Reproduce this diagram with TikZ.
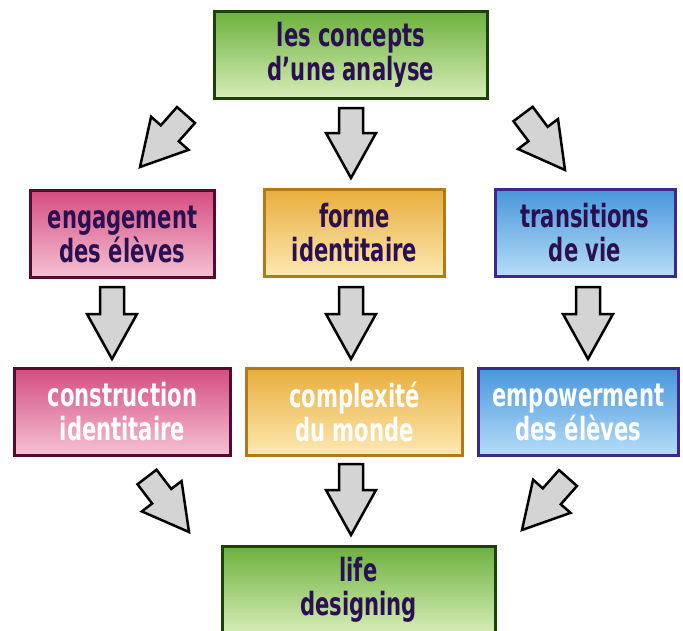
\documentclass[tikz,border=0pt]{standalone}
\usepackage{fontspec}
\newfontfamily\chalk{DejaVu Sans}[FakeStretch=0.66]
\usetikzlibrary{calc, positioning}

\definecolor{inkpurple}{HTML}{2A1050}
\definecolor{greentop}{HTML}{6CB13E}
\definecolor{greenbot}{HTML}{D8EDB8}
\definecolor{greenline}{HTML}{1A420A}
\definecolor{pinktop}{HTML}{D44D80}
\definecolor{pinkbot}{HTML}{F6C2D5}
\definecolor{pinkline}{HTML}{550A2E}
\definecolor{orangetop}{HTML}{E8AE3E}
\definecolor{orangebot}{HTML}{FDE9B2}
\definecolor{orangeline}{HTML}{B07A18}
\definecolor{bluetop}{HTML}{4797DC}
\definecolor{bluebot}{HTML}{B7DDF7}
\definecolor{blueline}{HTML}{3B2A8A}
\definecolor{arrowgray}{HTML}{D4D4D4}

% block arrow from tail #1 to tip #2
\newcommand{\blockarrow}[2]{%
  \draw[blockarrow] ($(#1)!12pt!90:(#2)$)
    -- ($(#2)!45pt!(#1)!12pt!-90:(#1)$)
    -- ($(#2)!45pt!(#1)!25pt!-90:(#1)$)
    -- (#2)
    -- ($(#2)!45pt!(#1)!25pt!90:(#1)$)
    -- ($(#2)!45pt!(#1)!12pt!90:(#1)$)
    -- ($(#1)!12pt!-90:(#2)$) -- cycle;}

\begin{document}
\begin{tikzpicture}[x=1pt, y=-1pt,
    box/.style={draw, line width=3pt, align=center, inner sep=0pt,
        minimum height=87pt,
        font=\chalk\bfseries\fontsize{32}{34}\selectfont},
    greenbox/.style={box, draw=greenline, top color=greentop, bottom color=greenbot, text=inkpurple},
    pinkbox/.style={box, draw=pinkline, top color=pinktop, bottom color=pinkbot},
    orangebox/.style={box, draw=orangeline, top color=orangetop, bottom color=orangebot},
    bluebox/.style={box, draw=blueline, top color=bluetop, bottom color=bluebot},
    blockarrow/.style={draw=black, line width=2.5pt, fill=arrowgray, line join=miter}]
    \useasboundingbox (0,0) rectangle (683,630);
    \clip (0,0) rectangle (683,630);

    % boxes
    \node[greenbox, minimum width=273pt] (concepts) at (351,55) {les concepts\\d’une analyse};

    \node[pinkbox, text=inkpurple, minimum width=184pt] (engagement) at (122.5,234) {engagement\\des élèves};
    \node[orangebox, text=inkpurple, minimum width=180pt] (forme) at (354.5,233) {forme\\identitaire};
    \node[bluebox, text=inkpurple, minimum width=180pt] (transitions) at (585,233) {transitions\\de vie};

    \node[pinkbox, text=white, minimum width=216pt] (construction) at (122.5,412) {construction\\identitaire};
    \node[orangebox, text=white, minimum width=216pt] (complexite) at (354.5,412) {complexité\\du monde};
    \node[bluebox, text=white, minimum width=200pt] (empowerment) at (578.5,412) {empowerment\\des élèves};

    \node[greenbox, minimum width=273pt] (life) at (358.5,590) {life\\designing};

    % arrow ends
    \coordinate (a1) at (186,115); \coordinate (a1t) at (140,167);
    \coordinate (a2) at (351,108); \coordinate (a2t) at (351,178);
    \coordinate (a3) at (523,114); \coordinate (a3t) at (565,170);
    \coordinate (b1) at (112,287); \coordinate (b1t) at (112,359);
    \coordinate (b2) at (351,287); \coordinate (b2t) at (351,359);
    \coordinate (b3) at (588,287); \coordinate (b3t) at (588,359);
    \coordinate (c1) at (147,477); \coordinate (c1t) at (189,532);
    \coordinate (c2) at (351,464); \coordinate (c2t) at (351,535);
    \coordinate (c3) at (568,478); \coordinate (c3t) at (522,530);

    \foreach \a in {a1,a2,a3,b1,b2,b3,c1,c2,c3}
        \blockarrow{\a}{\a t};
\end{tikzpicture}
\end{document}
